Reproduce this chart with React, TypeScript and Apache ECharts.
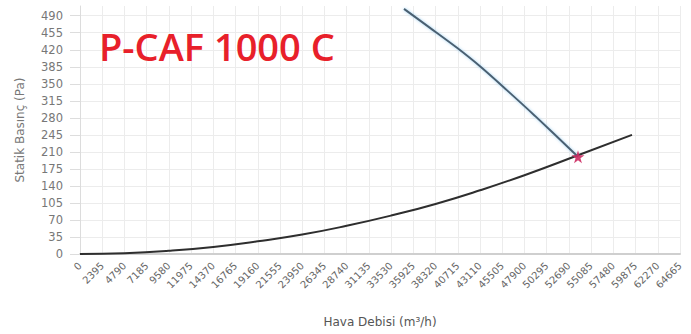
import React, { useEffect, useRef } from "react";
import * as echarts from "echarts";

const chartTitle = "P-CAF 1000 C";
const xAxisName = "Hava Debisi (m³/h)";
const yAxisName = "Statik Basınç (Pa)";

// system curve (black)
const systemX = [0, 4790, 9580, 14370, 19160, 23950, 28740, 33530, 38320, 43110, 47900, 53672, 59490];
const systemY = [0, 1.6, 6.5, 14.5, 26, 40, 58, 79, 103, 131, 162, 203, 245];

// fan curve (blue-grey)
const fanX = [34919, 37721, 40631, 43110, 46000, 49038, 53672];
const fanY = [504, 465, 424, 386, 337, 284, 200];

// operating point
const opX = [53672];
const opY = [200];

const STAR =
  "path://M50 0 L61 35 L98 35 L68 57 L79 92 L50 70 L21 92 L32 57 L2 35 L39 35 Z";

export default function App() {
  const ref = useRef<HTMLDivElement>(null);
  useEffect(() => {
    if (!ref.current) return;
    const chart = echarts.init(ref.current, undefined, { renderer: "svg" });
    const zip = (xs: number[], ys: number[]) => xs.map((x, i) => [x, ys[i]]);
    chart.setOption({
      animation: false,
      backgroundColor: "#ffffff",
      grid: { left: 80, right: 11, top: 6, bottom: 80, containLabel: false },
      graphic: [
        {
          type: "text",
          left: 99,
          top: 27,
          style: {
            text: chartTitle,
            fill: "#e8202a",
            font: "600 38px 'Open Sans'",
          },
          z: 10,
        },
      ],
      xAxis: {
        type: "value",
        min: 0,
        max: 64665,
        interval: 2395,
        name: xAxisName,
        nameLocation: "middle",
        nameGap: 62,
        nameTextStyle: { color: "#555", fontSize: 12, fontFamily: "DejaVu Sans" },
        axisLine: { show: true, lineStyle: { color: "#cfcfcf", width: 2 } },
        axisTick: { show: false },
        axisLabel: {
          rotate: 45,
          color: "#666",
          fontSize: 10,
          fontFamily: "DejaVu Sans",
          margin: 10,
          showMaxLabel: true,
          showMinLabel: true,
          formatter: (v: number) => String(v),
        },
        splitLine: { show: true, lineStyle: { color: "#ececec", width: 1 } },
      },
      yAxis: {
        type: "value",
        min: 0,
        max: 510,
        interval: 35,
        name: yAxisName,
        nameLocation: "middle",
        nameGap: 54,
        nameRotate: 90,
        nameTextStyle: { color: "#777", fontSize: 12, fontFamily: "DejaVu Sans" },
        axisLine: { show: true, lineStyle: { color: "#dcdcdc", width: 1 } },
        axisTick: { show: true, length: 10, lineStyle: { color: "#dddddd" } },
        axisLabel: {
          color: "#777",
          fontSize: 11.5,
          fontFamily: "DejaVu Sans",
          margin: 17,
          showMaxLabel: false,
        },
        splitLine: { show: true, showMaxLine: false, lineStyle: { color: "#ececec", width: 1 } },
      },
      series: [
        {
          type: "line",
          data: zip(systemX, systemY),
          smooth: true,
          showSymbol: false,
          lineStyle: { color: "#2e2e2e", width: 2 },
          z: 3,
        },
        {
          type: "line",
          data: zip(fanX, fanY),
          smooth: 0.3,
          showSymbol: false,
          clip: true,
          lineStyle: {
            color: "#4b5f70",
            width: 2,
            shadowColor: "rgba(120,190,235,0.7)",
            shadowBlur: 3,
          },
          z: 4,
        },
        {
          type: "scatter",
          data: zip(opX, opY),
          symbol: STAR,
          symbolSize: 13,
          itemStyle: { color: "#cc2b62", opacity: 0.9 },
          z: 5,
        },
      ],
    });
    return () => chart.dispose();
  }, []);
  return (
    <div
      ref={ref}
      style={{ position: "fixed", left: 0, top: 0, width: 691, height: 334, background: "#fff" }}
    />
  );
}
